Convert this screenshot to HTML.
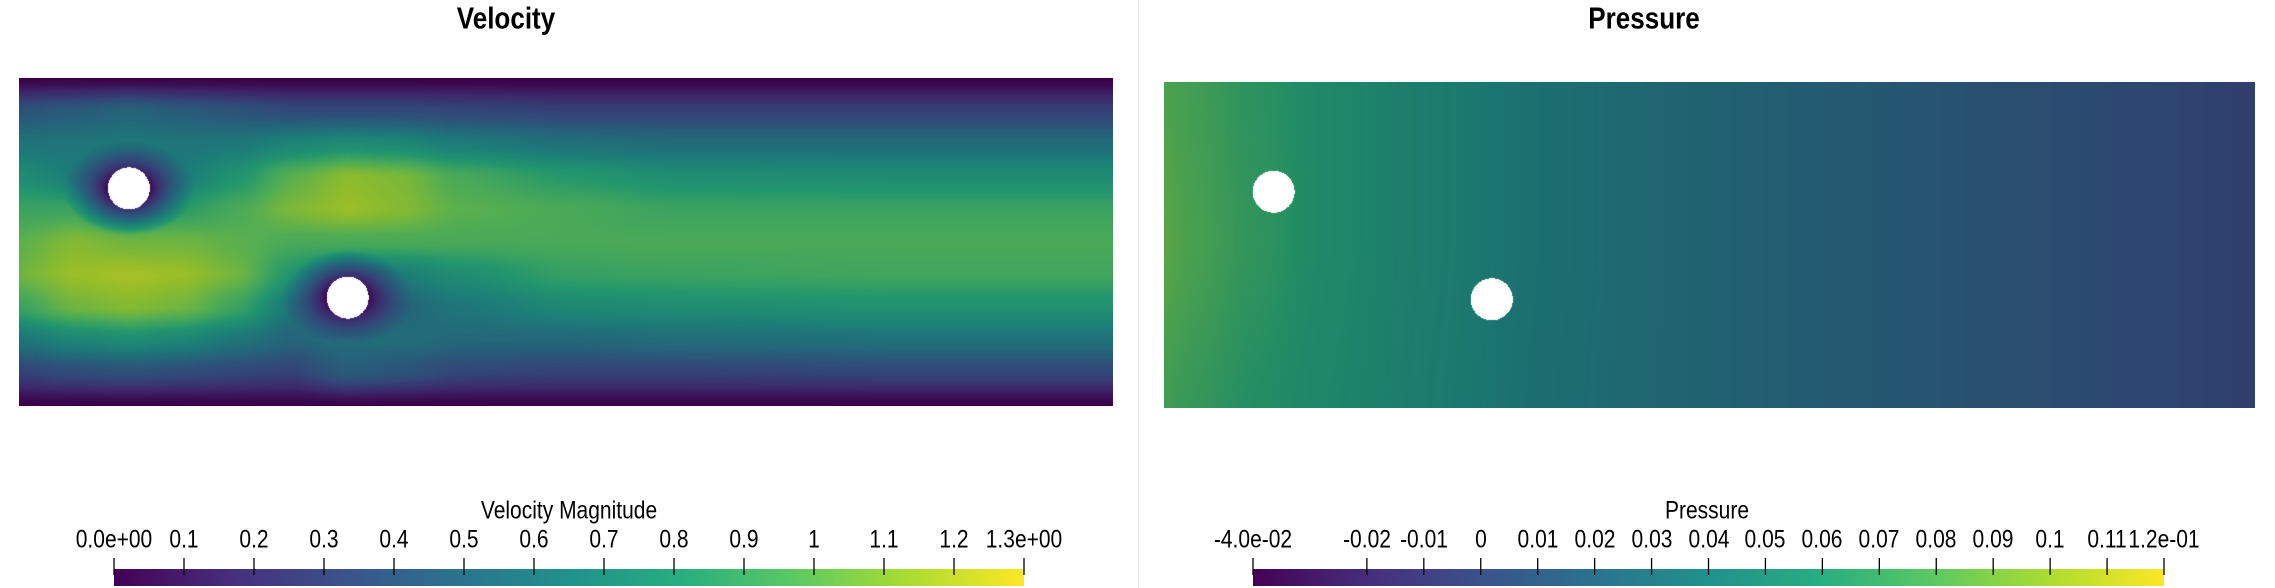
<!DOCTYPE html>
<html><head><meta charset="utf-8">
<style>
html,body{margin:0;padding:0;background:#fff;}
body{width:2275px;height:588px;position:relative;overflow:hidden;font-family:"Liberation Sans",sans-serif;}
.t{position:absolute;white-space:nowrap;color:#000;transform:translate(-50%,-50%) scaleX(0.84);line-height:1;}
.title{font-weight:bold;font-size:31px;}
.lab{font-size:25px;}
canvas,svg{position:absolute;}
</style></head><body>
<div style="position:absolute;left:1138px;top:0;width:1px;height:588px;background:#e6e6e6"></div>
<div class="t title" style="left:506px;top:18px">Velocity</div>
<div class="t title" style="left:1644px;top:18px">Pressure</div>
<canvas id="cv" width="1094" height="328" style="left:19px;top:78px"></canvas>
<canvas id="cp" width="1091" height="326" style="left:1164px;top:82px"></canvas>
<div class="t lab" style="left:569px;top:511px">Velocity Magnitude</div>
<div class="t lab" style="left:1707px;top:511px">Pressure</div>
<svg id="bars" width="2275" height="588" style="left:0;top:0"></svg>
<div id="labels"></div>
<script>
// ---- data ----
const velXs=[0,.05,.1,.15,.2,.25,.3,.35,.4,.5,.6,.8,1];
const velYs=[0,.1,.2,.3,.4,.5,.6,.7,.8,.9,1];
const velCols=[
[0,.4,.6,.75,.9,1.0,1.05,.9,.6,.3,0],
[0,.45,.6,.65,.9,1.1,1.15,1.05,.7,.35,0],
[0,.5,.62,.6,.75,1.05,1.18,1.1,.75,.38,0],
[0,.45,.6,.65,.85,1.05,1.15,1.05,.7,.35,0],
[0,.4,.62,.8,.95,1.0,1.05,.9,.6,.32,0],
[0,.35,.7,1.0,1.08,.95,.8,.6,.5,.3,0],
[0,.35,.75,1.12,1.15,.95,.6,.55,.55,.45,0],
[0,.35,.72,1.08,1.1,.95,.65,.5,.55,.4,0],
[0,.33,.65,.95,1.0,.95,.75,.6,.52,.32,0],
[0,.3,.58,.83,.95,.95,.88,.72,.52,.3,0],
[0,.3,.55,.76,.9,.95,.9,.75,.55,.3,0],
[0,.3,.55,.75,.9,.95,.92,.78,.58,.32,0],
[0,.3,.55,.75,.9,.95,.92,.78,.58,.32,0]];
const velObstacles=[[.1,.335],[.3,.668]];
const presXs=[0,.03,.08,.15,.25,.35,.5,.65,.8,.9,1];
const presYs=[0,.5,1];
const presCols=[
[.08,.085,.075],[.075,.078,.07],[.066,.068,.062],[.057,.057,.055],[.046,.046,.045],
[.036,.036,.035],[.025,.025,.025],[.017,.017,.017],[.009,.009,.009],[.004,.004,.004],[-.002,-.002,-.002]];
const presObstacles=[[.1,.335],[.3,.665]];
const velTicks=[0,.1,.2,.3,.4,.5,.6,.7,.8,.9,1,1.1,1.2,1.3];
const velTickLabels=["0.0e+00","0.1","0.2","0.3","0.4","0.5","0.6","0.7","0.8","0.9","1","1.1","1.2","1.3e+00"];
const presTicks=[-.04,-.02,-.01,0,.01,.02,.03,.04,.05,.06,.07,.08,.09,.1,.11,.12];
const presTickLabels=["-4.0e-02","-0.02","-0.01","0","0.01","0.02","0.03","0.04","0.05","0.06","0.07","0.08","0.09","0.1","0.11","1.2e-01"];
// ---- colormap ----
const stops=[[68,1,84],[71,45,123],[59,82,139],[44,114,142],[33,145,140],[40,174,128],[94,201,98],[173,220,48],[253,231,37]];
function viridis(t){t=Math.max(0,Math.min(1,t));const s=t*8,i=Math.min(7,Math.floor(s)),f=s-i;
 return stops[i].map((c,k)=>c+(stops[i+1][k]-c)*f);}
function seg(arr,v){let i=0;while(i<arr.length-2&&v>arr[i+1])i++;return [i,(v-arr[i])/(arr[i+1]-arr[i])];}
function sm(t){return t*t*(3-2*t)*0.5+t*0.5;}
function sample(xs,ys,cols,u,v){let [i,fx]=seg(xs,u),[j,fy]=seg(ys,v);fx=sm(fx);fy=sm(fy);
 const a=cols[i][j],b=cols[i+1][j],c=cols[i][j+1],d=cols[i+1][j+1];
 return (a*(1-fx)+b*fx)*(1-fy)+(c*(1-fx)+d*fx)*fy;}
function draw(id,xs,ys,cols,obst,vmin,vmax,dark,wake){
 const cv=document.getElementById(id),ctx=cv.getContext('2d'),W=cv.width,H=cv.height;
 const img=ctx.createImageData(W,H),R=21;
 for(let y=0;y<H;y++)for(let x=0;x<W;x++){
  const u=x/(W-1),v=y/(H-1);let val=sample(xs,ys,cols,u,v);
  let inside=false;
  for(const o of obst){const dx=x-o[0]*W,dy=y-o[1]*H,d=Math.hypot(dx,dy);
   if(d<=R){inside=true;break;}
   if(wake){const de=Math.hypot(dx*0.75,dy*1.05);const f=Math.min(1,Math.max(0,(de-R*0.75)/(1.6*R)));val*=Math.pow(f,0.7);}}
  const p=(y*W+x)*4;
  if(inside){img.data[p]=img.data[p+1]=img.data[p+2]=255;img.data[p+3]=255;continue;}
  const c=viridis((val-vmin)/(vmax-vmin));
  img.data[p]=c[0]*dark;img.data[p+1]=c[1]*dark;img.data[p+2]=c[2]*dark;img.data[p+3]=255;}
 ctx.putImageData(img,0,0);}
draw('cv',velXs,velYs,velCols,velObstacles,0,1.3,0.86,true);
draw('cp',presXs,presYs,presCols,presObstacles,-0.04,0.12,0.8,false);
// ---- colorbars ----
const NS='http://www.w3.org/2000/svg',svg=document.getElementById('bars'),labels=document.getElementById('labels');
const defs=document.createElementNS(NS,'defs');svg.appendChild(defs);
const grad=document.createElementNS(NS,'linearGradient');grad.setAttribute('id','vir');
stops.forEach((c,i)=>{const s=document.createElementNS(NS,'stop');s.setAttribute('offset',(i/8));s.setAttribute('stop-color','rgb('+c.join(',')+')');grad.appendChild(s);});
defs.appendChild(grad);
function colorbar(name,x0,x1,vmin,vmax,ticks,labs){
 const r=document.createElementNS(NS,'rect');
 
 
 r.setAttribute('x',x0);r.setAttribute('y',569);r.setAttribute('width',x1-x0);r.setAttribute('height',17);r.setAttribute('fill','url(#vir)');svg.appendChild(r);
 ticks.forEach((t,i)=>{const x=x0+(t-vmin)/(vmax-vmin)*(x1-x0);
  const l=document.createElementNS(NS,'line');
  
  
  l.setAttribute('x1',x);l.setAttribute('x2',x);l.setAttribute('y1',558);l.setAttribute('y2',575);l.setAttribute('stroke','#000');l.setAttribute('stroke-width','1.3');svg.appendChild(l);
  const d=document.createElement('div');d.className='t lab';
  
  
  d.style.left=x+'px';d.style.top='540px';d.textContent=labs[i];labels.appendChild(d);});}
colorbar('velocity',114,1024,0,1.3,velTicks,velTickLabels);
colorbar('pressure',1253,2164,-0.04,0.12,presTicks,presTickLabels);
</script>
</body></html>
